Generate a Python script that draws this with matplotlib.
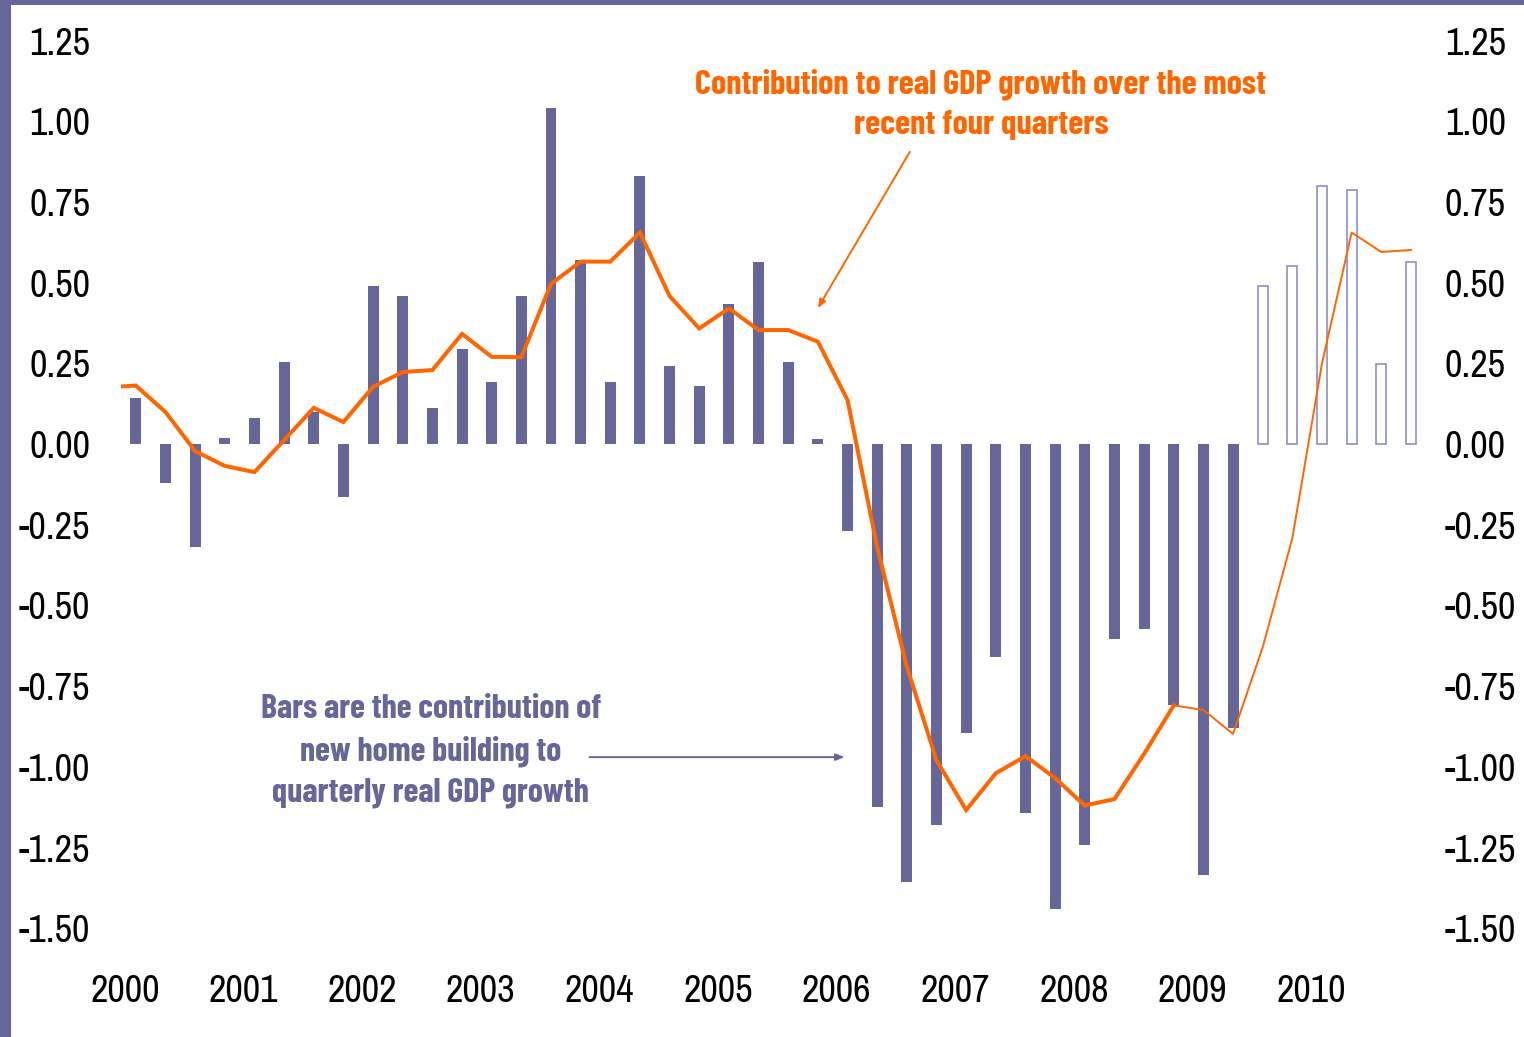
import matplotlib
matplotlib.use("Agg")
import matplotlib.pyplot as plt
from matplotlib.patches import Rectangle
from matplotlib.ticker import FixedLocator, FuncFormatter

plt.rcParams["font.family"] = ["Archivo Narrow", "DejaVu Sans"]
NOTE_FONT = ["Barlow Condensed", "DejaVu Sans"]

# Quarterly contribution of new home building to real GDP growth (2000Q1-2010Q4)
years = list(range(2000, 2011))
quarters = [f"{y}Q{q}" for y in range(2000, 2011) for q in range(1, 5)]
bar_values = [
    0.143, -0.120, -0.318, 0.020,    # 2000
    0.081, 0.254, 0.100, -0.163,     # 2001
    0.490, 0.458, 0.112, 0.294,      # 2002
    0.193, 0.458, 1.042, 0.570,      # 2003
    0.193, 0.830, 0.242, 0.180,      # 2004
    0.434, 0.564, 0.254, 0.015,      # 2005
    -0.269, -1.124, -1.358, -1.179,  # 2006
    -0.894, -0.659, -1.142, -1.439,  # 2007
    -1.242, -0.603, -0.572, -0.810,  # 2008
    -1.334, -0.881, 0.489, 0.550,    # 2009
    0.799, 0.786, 0.247, 0.563,      # 2010
]
# Contribution over the most recent four quarters
line_lead = 0.178
line_values = [
    0.181, 0.099, -0.022, -0.068,
    -0.087, 0.012, 0.112, 0.068,
    0.177, 0.223, 0.229, 0.341,
    0.270, 0.269, 0.496, 0.565,
    0.565, 0.655, 0.458, 0.358,
    0.420, 0.353, 0.353, 0.317,
    0.136, -0.320, -0.690, -0.980,
    -1.134, -1.020, -0.967, -1.035,
    -1.120, -1.100, -0.960, -0.810,
    -0.824, -0.898, -0.630, -0.292,
    0.250, 0.655, 0.595, 0.601,
]
forecast_bar_start = quarters.index("2009Q3")
forecast_line_start = quarters.index("2008Q4")

y_ticks = [1.25, 1.00, 0.75, 0.50, 0.25, 0.00, -0.25, -0.50, -0.75, -1.00, -1.25, -1.50]

PURPLE = "#666699"
HOLLOW_EDGE = "#8484c4"
ORANGE = "#ff6600"

W, H = 1524, 1037
fig = plt.figure(figsize=(W / 100, H / 100), dpi=100)
fig.patch.set_facecolor("white")

# frame strips along the left and top edges
fig.add_artist(Rectangle((0, 0), 10.5 / W, 1, transform=fig.transFigure,
                         facecolor=PURPLE, edgecolor="none"))
fig.add_artist(Rectangle((0, 1 - 4.5 / H), 1, 4.5 / H, transform=fig.transFigure,
                         facecolor=PURPLE, edgecolor="none"))

ax = fig.add_axes([121 / W, 1 - 928.2 / H, (1425.8 - 121) / W, (928.2 - 40.5) / H])
ax.set_facecolor("none")

x = list(range(len(quarters)))
n_act = forecast_bar_start
ax.bar(x[:n_act], bar_values[:n_act], width=0.37, color=PURPLE, edgecolor="none", zorder=2)
ax.bar(x[n_act:], bar_values[n_act:], width=0.34, facecolor="white",
       edgecolor=HOLLOW_EDGE, linewidth=1.1, zorder=2)

k = forecast_line_start
ax.plot([-0.5] + x[:k + 1], [line_lead] + line_values[:k + 1], color=ORANGE,
        lw=2.9, solid_joinstyle="miter", zorder=3)
ax.plot(x[k:], line_values[k:], color=ORANGE, lw=1.4, zorder=3)

ax.set_xlim(-0.5, len(quarters) - 0.5)
ax.set_ylim(-1.5, 1.25)
for s in ax.spines.values():
    s.set_visible(False)

fmt = FuncFormatter(lambda v, p: f"{v:.2f}")
ax.yaxis.set_major_locator(FixedLocator(y_ticks))
ax.yaxis.set_major_formatter(fmt)
ax.tick_params(axis="y", length=0, pad=22.3, labelsize=27.5, labelcolor="black")

ax.xaxis.set_major_locator(FixedLocator([4 * i - 0.37 for i in range(len(years))]))
ax.set_xticklabels([str(y) for y in years])
ax.tick_params(axis="x", length=0, pad=33, labelsize=27.5, labelcolor="black")

sec = ax.secondary_yaxis("right")
sec.yaxis.set_major_locator(FixedLocator(y_ticks))
sec.yaxis.set_major_formatter(fmt)
sec.tick_params(axis="y", length=0, pad=13.7, labelsize=27.5)
for s in sec.spines.values():
    s.set_visible(False)

# annotation for the four-quarter line
ax.text(28.5, 1.053, "Contribution to real GDP growth over the most\nrecent four quarters",
        ha="center", va="center", color=ORANGE, fontsize=24.8, fontweight="bold",
        family=NOTE_FONT, linespacing=1.44)
ax.annotate("", xy=(23.0, 0.421), xytext=(26.1, 0.905),
            arrowprops=dict(arrowstyle="-|>,head_length=0.5,head_width=0.2",
                            color=ORANGE, lw=1.4, shrinkA=0, shrinkB=0))

# annotation for the bars
ax.text(9.95, -0.951, "Bars are the contribution of\nnew home building to\nquarterly real GDP growth",
        ha="center", va="center", color=PURPLE, fontsize=24.5, fontweight="bold",
        family=NOTE_FONT, linespacing=1.44)
ax.annotate("", xy=(23.9, -0.97), xytext=(15.3, -0.97),
            arrowprops=dict(arrowstyle="-|>,head_length=0.5,head_width=0.2",
                            color=PURPLE, lw=1.4, shrinkA=0, shrinkB=0))

fig.savefig("out.png", dpi=100, facecolor="white")
